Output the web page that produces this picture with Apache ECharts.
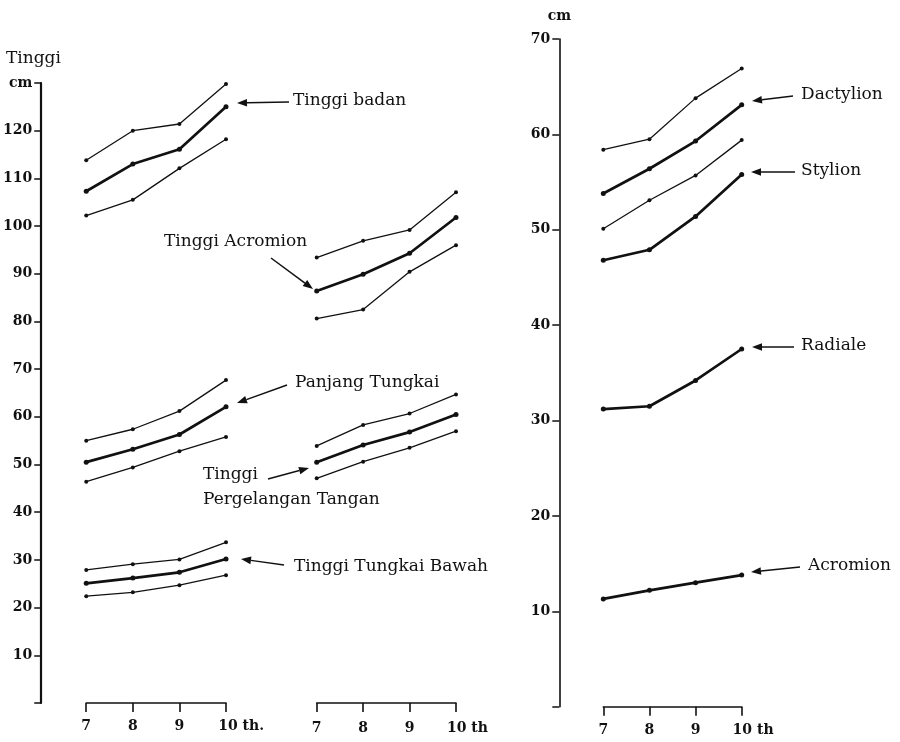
<!DOCTYPE html>
<html>
<head>
<meta charset="utf-8">
<script src="https://cdn.jsdelivr.net/npm/echarts@6/dist/echarts.min.js"></script>
<style>
  html, body { margin: 0; padding: 0; background: #fff; }
  #chart { width: 900px; height: 742px; }
</style>
</head>
<body>
<div id="chart"></div>
<script>
// ---- categories (age, years) ----
const ages = ['7', '8', '9', '10'];

// ---- axis ranges (cm) ----
const leftMax = 130;
const rightMax = 70;

// ---- Group 1 (left block) ----
const tinggiBadanUpper = [113.8, 120.0, 121.4, 129.8];
const tinggiBadanMean  = [107.3, 113.0, 116.1, 125.0];
const tinggiBadanLower = [102.2, 105.5, 112.1, 118.2];

const panjangTungkaiUpper = [55.0, 57.4, 61.2, 67.7];
const panjangTungkaiMean  = [50.5, 53.2, 56.3, 62.1];
const panjangTungkaiLower = [46.4, 49.4, 52.8, 55.8];

const tungkaiBawahUpper = [27.9, 29.1, 30.1, 33.7];
const tungkaiBawahMean  = [25.1, 26.2, 27.4, 30.2];
const tungkaiBawahLower = [22.4, 23.2, 24.7, 26.8];

// ---- Group 2 (middle block) ----
const acromionHUpper = [93.4, 96.9, 99.2, 107.1];
const acromionHMean  = [86.4, 89.9, 94.3, 101.8];
const acromionHLower = [80.6, 82.5, 90.4, 96.0];

const pergelanganUpper = [53.9, 58.3, 60.7, 64.7];
const pergelanganMean  = [50.5, 54.1, 56.8, 60.5];
const pergelanganLower = [47.1, 50.6, 53.5, 57.0];

// ---- Right panel ----
const dactylionUpper = [58.4, 59.5, 63.8, 66.9];
const dactylionMean  = [53.8, 56.4, 59.3, 63.1];
const stylionUpper   = [50.1, 53.1, 55.7, 59.4];
const stylionMean    = [46.8, 47.9, 51.4, 55.8];
const radialeMean    = [31.2, 31.5, 34.2, 37.5];
const acromionMean   = [11.3, 12.2, 13.0, 13.8];

const FONT = 'DejaVu Serif';
const INK = '#111';

const chart = echarts.init(document.getElementById('chart'), null, { renderer: 'canvas' });

function mk(data, idx, thick) {
  return {
    type: 'line', data: data, xAxisIndex: idx, yAxisIndex: idx,
    symbol: 'circle', symbolSize: thick ? 5 : 4, showSymbol: true,
    lineStyle: { color: INK, width: thick ? 2.7 : 1.3 },
    itemStyle: { color: INK },
    silent: true, animation: false
  };
}

function xAxisCfg(idx, suffix, offset) {
  return {
    type: 'category', gridIndex: idx, data: ages, boundaryGap: false, offset: offset,
    axisLine: { show: true, lineStyle: { color: INK, width: 1.6 } },
    axisTick: { show: true, length: 9, inside: false, interval: 0, lineStyle: { color: INK, width: 1.6 } },
    splitLine: { show: false },
    axisLabel: {
      interval: 0, margin: 16, color: INK, fontFamily: FONT, fontSize: 14, fontWeight: 'bold',
      formatter: function (v) { return v === '10' ? '{p|}10' + suffix : v; },
      rich: { p: { width: suffix.length * 7.6 } }
    }
  };
}

const tickStyle = { show: true, length: 7, inside: false, lineStyle: { color: INK, width: 1.5 } };

function arrow(x1, y1, x2, y2) {
  const a = Math.atan2(y2 - y1, x2 - x1);
  const L = 10, W = 3.8;
  const bx = x2 - L * Math.cos(a), by = y2 - L * Math.sin(a);
  const px = -Math.sin(a) * W, py = Math.cos(a) * W;
  return [
    { type: 'line', shape: { x1: x1, y1: y1, x2: bx, y2: by }, style: { stroke: INK, lineWidth: 1.5 }, silent: true },
    { type: 'polygon', shape: { points: [[x2, y2], [bx + px, by + py], [bx - px, by - py]] }, style: { fill: INK }, silent: true }
  ];
}

function label(t, x, y, size) {
  const s = size || 17;
  return { type: 'text', left: x, top: y - s * 0.6, style: { text: t, fill: INK, font: s + 'px "' + FONT + '"' }, silent: true };
}

const graphics = [].concat(
  [label('Tinggi', 6, 60, 17)],
  [label('Tinggi badan', 293, 102)], arrow(289, 102, 237, 103),
  [label('Tinggi Acromion', 164, 243)], arrow(271, 258, 313, 289),
  [label('Panjang Tungkai', 295, 384)], arrow(287, 385, 237, 403),
  [label('Tinggi', 203, 476), label('Pergelangan Tangan', 203, 501)], arrow(268, 479, 309, 468),
  [label('Tinggi Tungkai Bawah', 294, 568)], arrow(284, 565, 241, 559),
  [label('Dactylion', 801, 96)], arrow(793, 96, 752, 101),
  [label('Stylion', 801, 172)], arrow(795, 172, 751, 172),
  [label('Radiale', 801, 347)], arrow(794, 347, 752, 347),
  [label('Acromion', 808, 567)], arrow(800, 567, 751, 572)
);

const option = {
  backgroundColor: '#fff',
  animation: false,
  grid: [
    { left: 86, right: 674, top: 83, bottom: 39 },
    { left: 316.7, right: 444, top: 83, bottom: 39 },
    { left: 603.3, right: 158.3, top: 39, bottom: 35.3 }
  ],
  xAxis: [xAxisCfg(0, ' th.', 0), xAxisCfg(1, ' th', 2), xAxisCfg(2, ' th', 1)],
  yAxis: [
    {
      type: 'value', gridIndex: 0, min: 0, max: leftMax, interval: 10, offset: 45,
      axisLine: { show: true, lineStyle: { color: INK, width: 2.2 } },
      axisTick: tickStyle, splitLine: { show: false },
      axisLabel: {
        margin: 9, color: INK, fontFamily: FONT, fontSize: 14, fontWeight: 'bold',
        formatter: function (v) { return v === leftMax ? 'cm' : (v === 0 ? '' : String(v)); }
      }
    },
    { type: 'value', gridIndex: 1, min: 0, max: leftMax, interval: 10, show: false },
    {
      type: 'value', gridIndex: 2, min: 0, max: rightMax, interval: 10, offset: 44,
      name: 'cm', nameLocation: 'end', nameGap: 16,
      nameTextStyle: { color: INK, fontFamily: FONT, fontSize: 14, fontWeight: 'bold' },
      axisLine: { show: true, lineStyle: { color: INK, width: 1.6 } },
      axisTick: tickStyle, splitLine: { show: false },
      axisLabel: {
        margin: 9, color: INK, fontFamily: FONT, fontSize: 14, fontWeight: 'bold',
        formatter: function (v) { return v === 0 ? '' : String(v); }
      }
    }
  ],
  series: [
    mk(tinggiBadanUpper, 0, false), mk(tinggiBadanMean, 0, true), mk(tinggiBadanLower, 0, false),
    mk(panjangTungkaiUpper, 0, false), mk(panjangTungkaiMean, 0, true), mk(panjangTungkaiLower, 0, false),
    mk(tungkaiBawahUpper, 0, false), mk(tungkaiBawahMean, 0, true), mk(tungkaiBawahLower, 0, false),
    mk(acromionHUpper, 1, false), mk(acromionHMean, 1, true), mk(acromionHLower, 1, false),
    mk(pergelanganUpper, 1, false), mk(pergelanganMean, 1, true), mk(pergelanganLower, 1, false),
    mk(dactylionUpper, 2, false), mk(dactylionMean, 2, true),
    mk(stylionUpper, 2, false), mk(stylionMean, 2, true),
    mk(radialeMean, 2, true), mk(acromionMean, 2, true)
  ],
  graphic: graphics
};

chart.setOption(option);
</script>
</body>
</html>
